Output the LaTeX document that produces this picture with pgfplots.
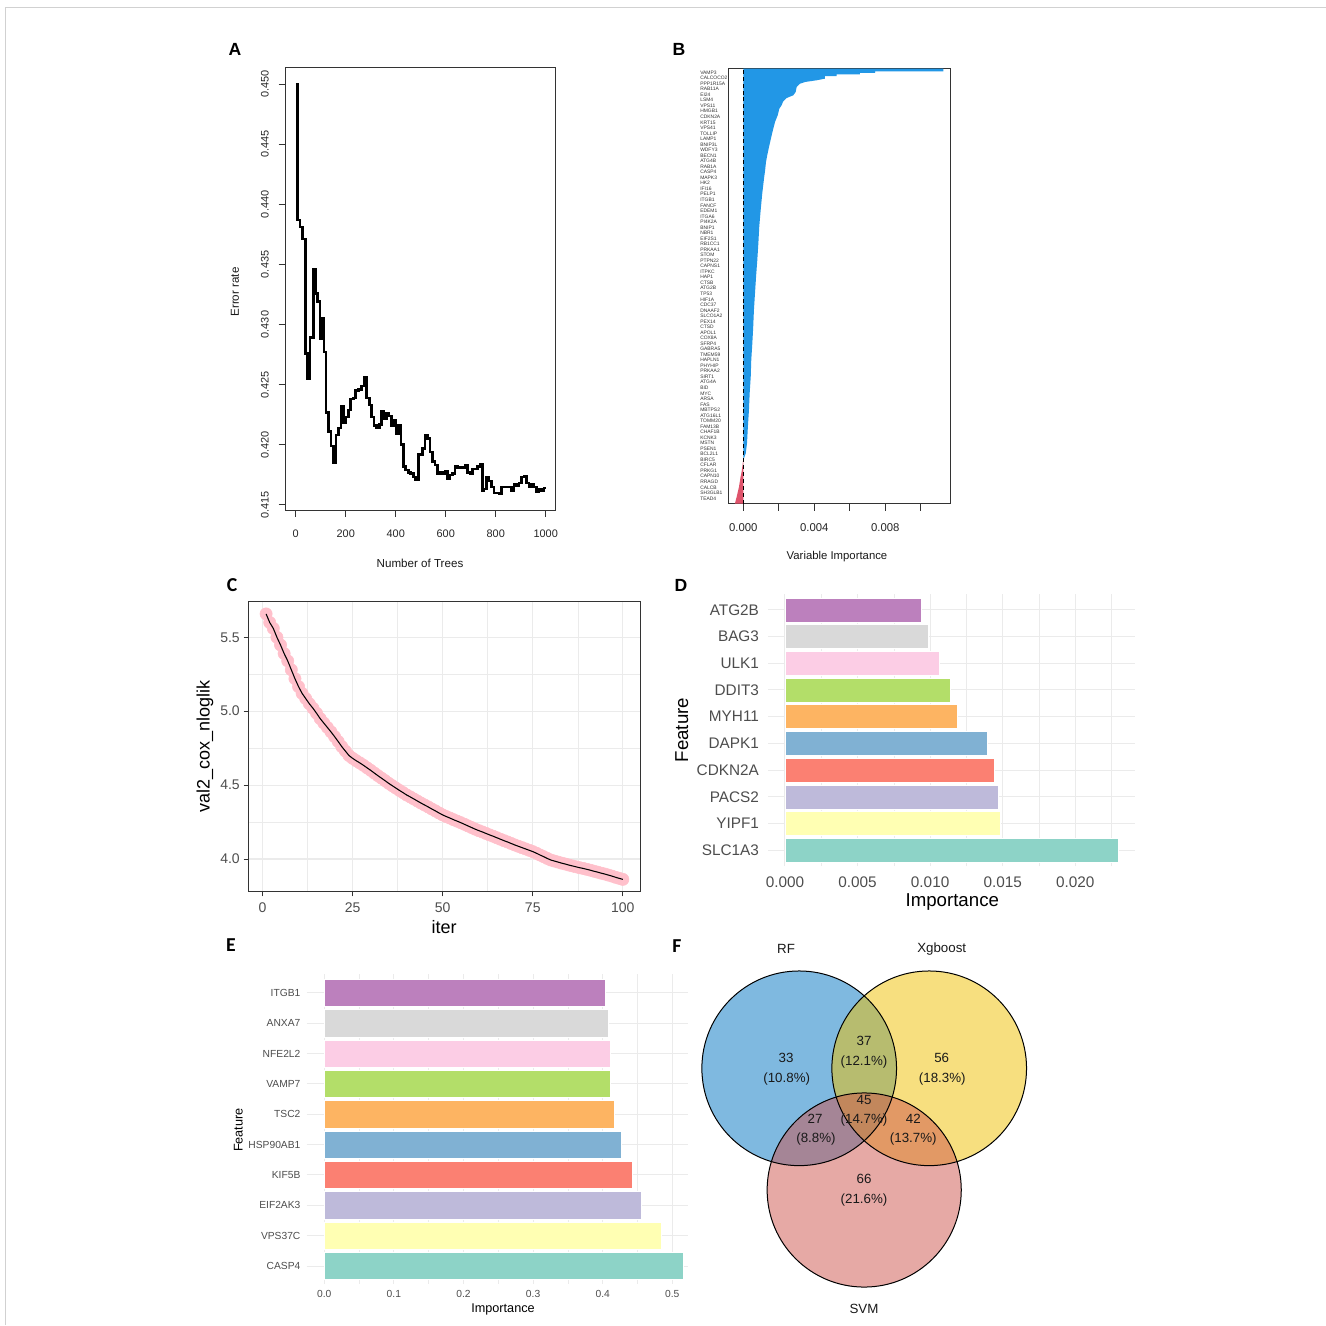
\documentclass[border=0pt]{standalone}
\usepackage{fontspec}
\setmainfont{Liberation Sans}
\setsansfont{Liberation Sans}
\newfontfamily\carlito{Carlito}
\usepackage{pgfplots}
\usepackage{pgfplotstable}
\pgfplotsset{compat=1.18}
\newcommand{\fsz}[1]{\fontsize{#1}{#1}\selectfont}
\definecolor{gnn}{HTML}{EBEBEB}
\definecolor{gtw}{HTML}{333333}
\definecolor{gth}{HTML}{4D4D4D}
\definecolor{sA}{HTML}{8DD3C7}
\definecolor{sB}{HTML}{FFFFB3}
\definecolor{sC}{HTML}{BEBADA}
\definecolor{sD}{HTML}{FB8072}
\definecolor{sE}{HTML}{80B1D3}
\definecolor{sF}{HTML}{FDB462}
\definecolor{sG}{HTML}{B3DE69}
\definecolor{sH}{HTML}{FCCDE5}
\definecolor{sI}{HTML}{D9D9D9}
\definecolor{sJ}{HTML}{BC80BD}
\definecolor{rblue}{HTML}{2297E6}
\definecolor{rred}{HTML}{DF536B}
\definecolor{cpink}{HTML}{FFC0CB}
\definecolor{vblue}{HTML}{0073C2}
\definecolor{vyel}{HTML}{EFC000}
\definecolor{vred}{HTML}{CD534C}

\pgfplotstableread{
x y
1 5.658
2 5.600
3 5.560
4 5.500
5 5.448
6 5.390
7 5.340
8 5.280
9 5.220
10 5.166
11 5.120
12 5.085
13 5.050
14 5.020
15 4.986
16 4.950
17 4.920
18 4.890
19 4.860
20 4.828
21 4.795
22 4.760
23 4.730
24 4.700
25 4.681
26 4.665
27 4.650
28 4.634
29 4.617
30 4.600
31 4.582
32 4.564
33 4.547
34 4.530
35 4.512
36 4.496
37 4.480
38 4.464
39 4.449
40 4.433
41 4.420
42 4.406
43 4.392
44 4.378
45 4.365
46 4.352
47 4.338
48 4.325
49 4.311
50 4.298
51 4.287
52 4.277
53 4.266
54 4.256
55 4.246
56 4.235
57 4.224
58 4.213
59 4.202
60 4.192
61 4.183
62 4.173
63 4.163
64 4.154
65 4.144
66 4.134
67 4.124
68 4.115
69 4.105
70 4.095
71 4.086
72 4.077
73 4.068
74 4.059
75 4.050
76 4.039
77 4.027
78 4.016
79 4.004
80 3.993
81 3.986
82 3.979
83 3.972
84 3.966
85 3.959
86 3.953
87 3.947
88 3.941
89 3.936
90 3.930
91 3.924
92 3.917
93 3.911
94 3.904
95 3.898
96 3.891
97 3.884
98 3.876
99 3.869
100 3.862
}\Cdata

\begin{document}
\begin{tikzpicture}
% outer frame
\draw[color=black!18, line width=0.6pt] (3.75pt,0pt) -- (3.75pt,988.5pt) -- (994.5pt,988.5pt);

%================ Panel A =================
\begin{axis}[
  at={(214.3pt,611.25pt)}, anchor=south west,
  scale only axis, width=202.5pt, height=332.1pt,
  xmin=-40, xmax=1040, ymin=0.41457, ymax=0.45141,
  xtick={0,200,400,600,800,1000}, xticklabels={0,200,400,600,800,1000},
  ytick={0.415,0.42,0.425,0.43,0.435,0.44,0.445,0.45},
  yticklabels={0.415,0.420,0.425,0.430,0.435,0.440,0.445,0.450},
  tick align=outside, tick pos=left, major tick length=5.25pt,
  axis line style={black!80, line width=0.55pt},
  tick style={black!80, line width=0.55pt},
  tick label style={font=\fsz{8.2}, text=black!85},
  x tick label style={inner sep=0pt, yshift=-9.5pt},
  y tick label style={rotate=90, anchor=south, inner xsep=0pt, inner ysep=7.25pt},
]
\addplot[const plot, black, line width=1.9pt] coordinates {
(1,0.4500) (8,0.4387) (17,0.4381) (28,0.4371) (40,0.4276) (47,0.4255) (57,0.4289) (71,0.4346)
(80,0.4326) (87,0.4319) (97,0.4288) (104,0.4305) (113,0.4277) (121,0.4227) (131,0.4211) (141,0.4199)
(151,0.4185) (161,0.4208) (171,0.4214) (181,0.4232) (191,0.4218) (200,0.4223) (211,0.4229) (220,0.4238)
(231,0.4239) (240,0.4245) (251,0.4246) (264,0.4249) (273,0.4256) (284,0.4239) (295,0.4233) (304,0.4223)
(313,0.4216) (324,0.4214) (335,0.4217) (344,0.4228) (353,0.4222) (364,0.4226) (373,0.4224) (384,0.4216)
(393,0.4220) (401,0.4209) (411,0.4216) (421,0.4200) (431,0.4182) (440,0.4179) (451,0.4177) (460,0.4176)
(471,0.4173) (480,0.4171) (491,0.4192) (508,0.4197) (517,0.4208) (527,0.4205) (537,0.4194) (547,0.4186)
(557,0.4183) (567,0.4176) (577,0.4177) (587,0.4176) (597,0.4178) (607,0.4172) (617,0.4175) (627,0.4176)
(637,0.4182) (647,0.4181) (657,0.4181) (667,0.4181) (677,0.4183) (687,0.4177) (697,0.4176) (707,0.4180)
(717,0.4180) (727,0.4182) (737,0.4184) (747,0.4162) (753,0.4163) (764,0.4173) (773,0.4170) (784,0.4165)
(793,0.4160) (804,0.4160) (813,0.4159) (824,0.4165) (833,0.4165) (844,0.4165) (853,0.4165) (864,0.4162)
(873,0.4167) (884,0.4166) (893,0.4168) (904,0.4173) (913,0.4174) (924,0.4168) (933,0.4165) (944,0.4167)
(953,0.4165) (964,0.4161) (973,0.4163) (984,0.4162) (993,0.4164) (1000,0.4164)};
\end{axis}

%================ Panel B =================
\begin{axis}[
  at={(546.2pt,616.05pt)}, anchor=south west,
  scale only axis, width=166.3pt, height=326.7pt,
  xmin=-0.000845, xmax=0.011645, ymin=-77.94, ymax=0.83,
  scaled ticks=false,
  xtick={0,0.002,0.004,0.006,0.008,0.010}, xticklabels={0.000,,0.004,,0.008,},
  ytick={-77,...,0},
  yticklabels={TEAD4,SH3GLB1,CALCB,RRAGD,CAPN10,PRKG1,CFLAR,BIRC5,BCL2L1,PSEN1,MSTN,KCNK3,CHAF1B,FAM13B,TOMM20,ATG16L1,MBTPS2,FAS,ARSA,MYC,BID,ATG4A,SIRT1,PRKAA2,PHYHIP,HAPLN1,TMEM59,GABRA5,SFRP4,COX8A,APOL1,CTSD,PEX14,SLCO1A2,DNAAF2,CDC37,HIF1A,TP53,ATG2B,CTSB,HAP1,ITPKC,CAPNS1,PTPN22,STOM,PRKAA1,RB1CC1,EIF2S1,NBR1,BNIP1,PI4K2A,ITGA6,EDEM1,FANCF,ITGB1,PELP1,IFI16,HK2,MAPK3,CASP4,RAB1A,ATG4B,BECN1,WDFY3,BNIP3L,LAMP1,TOLLIP,VPS41,KRT15,CDKN2A,HMGB1,VPS11,LSM4,EI24,RAB11A,PPP1R15A,CALCOCO2,VAMP3},
  xtick align=outside, ytick align=inside, xtick pos=left, major tick length=5.25pt,
  ytick style={draw=none},
  axis line style={black!80, line width=0.55pt},
  xtick style={black!80, line width=0.55pt},
  x tick label style={font=\fsz{8.5}, text=black!85, inner sep=0pt, yshift=-9.2pt},
  y tick label style={font=\fsz{3.7}, text=black!80, anchor=west, inner sep=0pt, xshift=-21.2pt},
]
\addplot[fill=rblue, draw=none] coordinates {
(0,0.72) (0.01127,0.72) (0.01127,0.24) (0.00742,0.24) (0.00742,-0.07) (0.00657,-0.07) (0.00657,-0.31)
(0.00526,-0.31) (0.00526,-0.62) (0.0046,-0.62) (0.0046,-1.10) (0.00414,-1.39) (0.00348,-1.70)
(0.00319,-2.01) (0.00301,-2.60) (0.00295,-3.51) (0.00282,-4.10) (0.00245,-4.59) (0.00225,-5.19)
(0.00216,-5.91) (0.00203,-6.53) (0.00194,-7.72) (0.00179,-8.93) (0.00169,-10.14) (0.0016,-11.34)
(0.00147,-13.15) (0.00135,-14.95) (0.00128,-16.17) (0.00122,-17.97) (0.00118,-18.82) (0.00107,-21.83)
(0.00098,-24.85) (0.0009,-27.87) (0.00085,-30.87) (0.00079,-33.89) (0.00072,-36.91) (0.00066,-39.91)
(0.0006,-42.93) (0.00056,-45.95) (0.00051,-48.95) (0.00045,-51.97) (0.00042,-54.99) (0.00036,-57.99)
(0.00032,-61.01) (0.00026,-64.03) (0.00021,-67.03) (0.00014,-68.84) (0.00004,-69.75) (0,-69.75)} -- cycle;
\addplot[fill=rred, draw=none] coordinates {
(0,-69.75) (-0.00004,-71.0) (-0.0001,-72.3) (-0.00015,-73.07) (-0.00024,-74.88) (-0.00037,-76.69)
(-0.00047,-77.94) (0,-77.94)} -- cycle;
\addplot[black, line width=1.1pt, dash pattern=on 3pt off 2.2pt] coordinates {(0,-77.94) (0,0.83)};
\end{axis}

%================ Panel C =================
\begin{axis}[
  at={(186.2pt,325.0pt)}, anchor=south west,
  scale only axis, width=294.3pt, height=217.5pt,
  xmin=-3.95, xmax=104.95, ymin=3.7788, ymax=5.7409,
  clip marker paths=true,
  xtick={0,25,50,75,100}, xticklabels={0,25,50,75,100},
  ytick={4,4.5,5,5.5}, yticklabels={4.0,4.5,5.0,5.5},
  minor xtick={12.5,37.5,62.5,87.5}, minor ytick={4.25,4.75,5.25},
  grid=both,
  major grid style={color=gnn, line width=0.8pt},
  minor grid style={color=gnn, line width=0.4pt},
  tick align=outside, tick pos=left, major tick length=3.5pt, minor tick length=0pt,
  axis line style={gtw, line width=0.8pt},
  tick style={gtw, line width=0.6pt},
  tick label style={font=\fsz{10.5}, text=gth, inner sep=0pt},
  x tick label style={yshift=-4.5pt},
  y tick label style={xshift=-2.7pt},
]
\addplot[only marks, mark=*, mark size=4.6pt, mark options={draw=cpink, fill=cpink}] table[x=x,y=y] {\Cdata};
\addplot[black, line width=0.8pt, no marks] table[x=x,y=y] {\Cdata};
\end{axis}

%================ Panel D =================
\begin{axis}[
  at={(576.2pt,344.0pt)}, anchor=south west,
  scale only axis, width=275pt, height=204.45pt,
  xmin=-0.001148, xmax=0.024108, ymin=0.4, ymax=10.6,
  scaled ticks=false,
  xtick={0,0.005,0.01,0.015,0.02}, xticklabels={0.000,0.005,0.010,0.015,0.020},
  minor xtick={0.0025,0.0075,0.0125,0.0175,0.0225},
  ytick={1,...,10}, yticklabels={SLC1A3,YIPF1,PACS2,CDKN2A,DAPK1,MYH11,DDIT3,ULK1,BAG3,ATG2B},
  xmajorgrids, xminorgrids, ymajorgrids,
  major grid style={color=gnn, line width=0.8pt},
  minor grid style={color=gnn, line width=0.4pt},
  axis line style={draw=none}, tick style={draw=none},
  major tick length=0pt, minor tick length=0pt,
  tick label style={font=\fsz{11.5}, text=gth, inner sep=0pt},
  x tick label style={yshift=-7.4pt},
  y tick label style={xshift=-6.8pt},
]
\addplot[xbar, bar shift=0pt, bar width=0.9, fill=sA, draw=white, line width=0.3pt] coordinates {(0.02296,1)};
\addplot[xbar, bar shift=0pt, bar width=0.9, fill=sB, draw=white, line width=0.3pt] coordinates {(0.01485,2)};
\addplot[xbar, bar shift=0pt, bar width=0.9, fill=sC, draw=white, line width=0.3pt] coordinates {(0.01471,3)};
\addplot[xbar, bar shift=0pt, bar width=0.9, fill=sD, draw=white, line width=0.3pt] coordinates {(0.01443,4)};
\addplot[xbar, bar shift=0pt, bar width=0.9, fill=sE, draw=white, line width=0.3pt] coordinates {(0.01391,5)};
\addplot[xbar, bar shift=0pt, bar width=0.9, fill=sF, draw=white, line width=0.3pt] coordinates {(0.01187,6)};
\addplot[xbar, bar shift=0pt, bar width=0.9, fill=sG, draw=white, line width=0.3pt] coordinates {(0.01141,7)};
\addplot[xbar, bar shift=0pt, bar width=0.9, fill=sH, draw=white, line width=0.3pt] coordinates {(0.01065,8)};
\addplot[xbar, bar shift=0pt, bar width=0.9, fill=sI, draw=white, line width=0.3pt] coordinates {(0.00986,9)};
\addplot[xbar, bar shift=0pt, bar width=0.9, fill=sJ, draw=white, line width=0.3pt] coordinates {(0.00939,10)};
\end{axis}

%================ Panel E =================
\begin{axis}[
  at={(230.0pt,30.6pt)}, anchor=south west,
  scale only axis, width=286.0pt, height=232.3pt,
  xmin=-0.0253, xmax=0.5226, ymin=0.4, ymax=10.6,
  scaled ticks=false,
  xtick={0,0.1,0.2,0.3,0.4,0.5}, xticklabels={0.0,0.1,0.2,0.3,0.4,0.5},
  minor xtick={0.05,0.15,0.25,0.35,0.45},
  ytick={1,...,10}, yticklabels={CASP4,VPS37C,EIF2AK3,KIF5B,HSP90AB1,TSC2,VAMP7,NFE2L2,ANXA7,ITGB1},
  xmajorgrids, xminorgrids, ymajorgrids,
  major grid style={color=gnn, line width=0.7pt},
  minor grid style={color=gnn, line width=0.35pt},
  axis line style={draw=none}, tick style={draw=none},
  major tick length=0pt, minor tick length=0pt,
  tick label style={font=\fsz{7.7}, text=gth, inner sep=0pt},
  x tick label style={yshift=-4.6pt},
  y tick label style={xshift=-4.5pt},
]
\addplot[xbar, bar shift=0pt, bar width=0.9, fill=sA, draw=white, line width=0.3pt] coordinates {(0.515,1)};
\addplot[xbar, bar shift=0pt, bar width=0.9, fill=sB, draw=white, line width=0.3pt] coordinates {(0.4847,2)};
\addplot[xbar, bar shift=0pt, bar width=0.9, fill=sC, draw=white, line width=0.3pt] coordinates {(0.455,3)};
\addplot[xbar, bar shift=0pt, bar width=0.9, fill=sD, draw=white, line width=0.3pt] coordinates {(0.4421,4)};
\addplot[xbar, bar shift=0pt, bar width=0.9, fill=sE, draw=white, line width=0.3pt] coordinates {(0.4272,5)};
\addplot[xbar, bar shift=0pt, bar width=0.9, fill=sF, draw=white, line width=0.3pt] coordinates {(0.4167,6)};
\addplot[xbar, bar shift=0pt, bar width=0.9, fill=sG, draw=white, line width=0.3pt] coordinates {(0.4110,7)};
\addplot[xbar, bar shift=0pt, bar width=0.9, fill=sH, draw=white, line width=0.3pt] coordinates {(0.4105,8)};
\addplot[xbar, bar shift=0pt, bar width=0.9, fill=sI, draw=white, line width=0.3pt] coordinates {(0.4086,9)};
\addplot[xbar, bar shift=0pt, bar width=0.9, fill=sJ, draw=white, line width=0.3pt] coordinates {(0.4033,10)};
\end{axis}

%================ Panel F (Venn) =================
\begin{axis}[
  at={(495pt,3.75pt)}, anchor=south west,
  scale only axis, width=300pt, height=300pt,
  xmin=0, xmax=400, ymin=0, ymax=400,
  hide axis, clip=false,
]
\fill[vblue, fill opacity=0.5] (axis cs:139.2,251.7) circle[radius=73pt];
\fill[vyel, fill opacity=0.5] (axis cs:269.2,251.7) circle[radius=73pt];
\fill[vred, fill opacity=0.5] (axis cs:204.2,130) circle[radius=72.8pt];
\draw[black, line width=0.75pt] (axis cs:139.2,251.7) circle[radius=73pt];
\draw[black, line width=0.75pt] (axis cs:269.2,251.7) circle[radius=73pt];
\draw[black, line width=0.75pt] (axis cs:204.2,130) circle[radius=72.8pt];
\begin{scope}[every node/.style={font=\fsz{10}, text=black!90}]
\node at (axis cs:126,371) {RF};
\node at (axis cs:281.7,371) {Xgboost};
\node at (axis cs:204,10.7) {SVM};
\node at (axis cs:126,261.7) {33};
\node at (axis cs:126.7,241) {(10.8\%)};
\node at (axis cs:204,279) {37};
\node at (axis cs:204,258.3) {(12.1\%)};
\node at (axis cs:281.7,261.7) {56};
\node at (axis cs:282.3,241) {(18.3\%)};
\node at (axis cs:204,220) {45};
\node at (axis cs:204,200) {(14.7\%)};
\node at (axis cs:155,200.7) {27};
\node at (axis cs:156,180.7) {(8.8\%)};
\node at (axis cs:253.3,200.7) {42};
\node at (axis cs:253.3,180.7) {(13.7\%)};
\node at (axis cs:204,140.7) {66};
\node at (axis cs:204,120) {(21.6\%)};
\end{scope}
\end{axis}

%================ Labels =================
\node[font=\bfseries\fsz{13.2}] at (176.25pt,957pt) {A};
\node[font=\bfseries\fsz{13.2}] at (509.25pt,957pt) {B};
\node[font=\carlito\bfseries\fsz{14.8}] at (174pt,555pt) {C};
\node[font=\bfseries\fsz{13.2}] at (510.75pt,555pt) {D};
\node[font=\carlito\bfseries\fsz{14.8}] at (173.25pt,285pt) {E};
\node[font=\carlito\bfseries\fsz{14.8}] at (507.75pt,284.25pt) {F};

\node[font=\fsz{8.7}, text=black!90] at (315pt,571.5pt) {Number of Trees};
\node[font=\fsz{8.7}, text=black!90, rotate=90] at (176.25pt,774.75pt) {Error rate};
\node[font=\fsz{8.5}, text=black!90] at (627.75pt,576.5pt) {Variable Importance};
\node[font=\fsz{13.5}] at (333pt,298.7pt) {iter};
\node[font=\fsz{13.5}, rotate=90] at (153.75pt,433.7pt) {val2\_cox\_nloglik};
\node[font=\fsz{14}] at (714.2pt,317.25pt) {Importance};
\node[font=\fsz{14}, rotate=90] at (511.3pt,446.25pt) {Feature};
\node[font=\fsz{9.5}] at (377.25pt,12pt) {Importance};
\node[font=\fsz{9.5}, rotate=90] at (178.7pt,146.25pt) {Feature};

\pgfresetboundingbox
\useasboundingbox (0pt,0pt) rectangle (994.5pt,993.75pt);
\end{tikzpicture}
\end{document}
